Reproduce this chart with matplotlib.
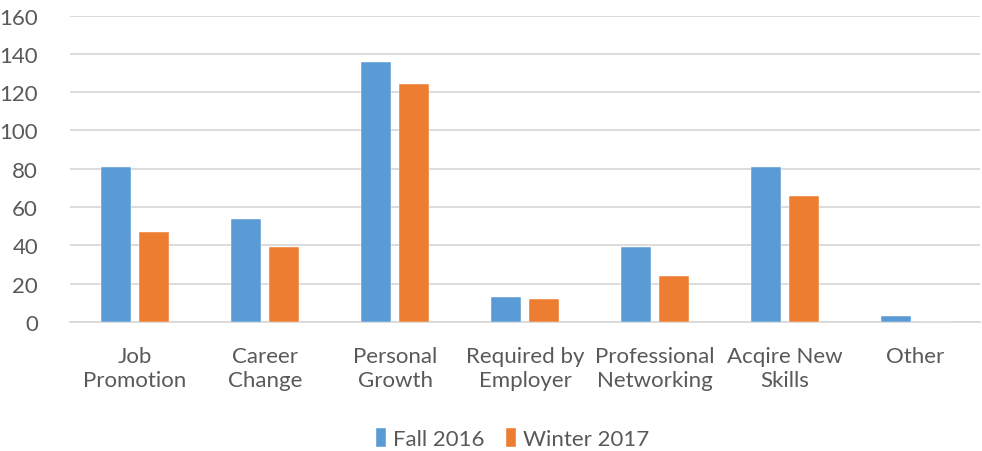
import matplotlib.pyplot as plt
import numpy as np

categories = ["Job\nPromotion", "Career\nChange", "Personal\nGrowth", "Required by\nEmployer",
              "Professional\nNetworking", "Acqire New\nSkills", "Other"]
fall_2016 = [81, 54, 136, 13, 39, 81, 3]
winter_2017 = [47, 39, 124, 12, 24, 66, 0]

plt.rcParams['font.family'] = ['Lato', 'DejaVu Sans']
text_color = '#595959'

fig = plt.figure(figsize=(9.82, 4.52), dpi=100)
ax = fig.add_axes([0.0713, 0.2854, 0.9267, 0.678])

x = np.arange(len(categories))
w = 0.228
ax.bar(x - 0.145, fall_2016, w, color='#5b9bd5', edgecolor='white', linewidth=0.3, label='Fall 2016', zorder=3)
ax.bar(x + 0.145, winter_2017, w, color='#ed7d31', edgecolor='white', linewidth=0.3, label='Winter 2017', zorder=3)

ax.set_xlim(-0.5, len(categories) - 0.5)
ax.set_ylim(0, 160)
ax.set_yticks(range(0, 161, 20))
ax.set_xticks(x)
ax.set_xticklabels(categories, linespacing=1.3)
ax.yaxis.grid(True, color='#d9d9d9', linewidth=1.3, zorder=0)
for s in ['top', 'right', 'left']:
    ax.spines[s].set_visible(False)
ax.spines['bottom'].set_color('#d9d9d9')
ax.spines['bottom'].set_linewidth(1.3)
ax.tick_params(axis='both', length=0, labelsize=16, colors=text_color)
ax.tick_params(axis='y', pad=23)
ax.tick_params(axis='x', pad=17)

fig.legend(loc='center', bbox_to_anchor=(0.522, 0.028), ncol=2, frameon=False,
           fontsize=16, handlelength=0.45, handleheight=1.0, handletextpad=0.3,
           columnspacing=1.0, labelcolor=text_color)

fig.savefig('out.png', dpi=100)
